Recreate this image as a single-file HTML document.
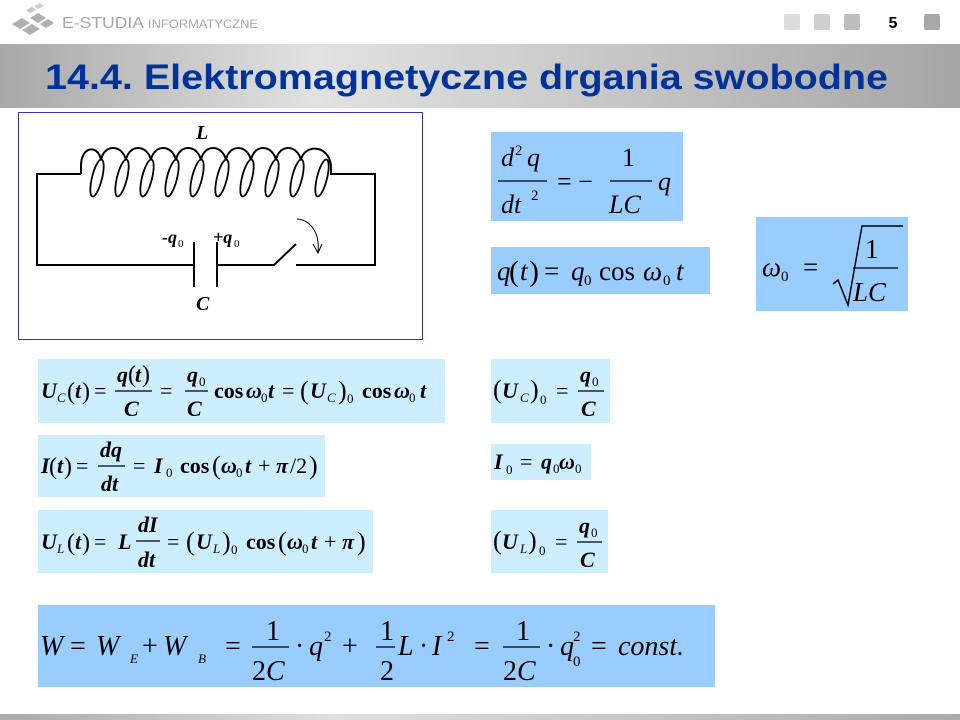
<!DOCTYPE html>
<html><head><meta charset="utf-8"><style>
html,body{margin:0;padding:0;background:#fff;}
svg{display:block;}
.m{font-family:"Liberation Serif",serif;font-style:italic;fill:#000;}
.r{font-family:"Liberation Serif",serif;fill:#000;}
.b{font-weight:bold;}
</style></head><body>
<svg width="960" height="720" viewBox="0 0 960 720" xmlns="http://www.w3.org/2000/svg">
<defs>
<linearGradient id="hg" x1="0" x2="1" y1="0" y2="0">
<stop offset="0" stop-color="#a8a8a8"/><stop offset="0.33" stop-color="#e2e2e2"/><stop offset="1" stop-color="#a6a6a6"/>
</linearGradient>
<linearGradient id="fg" x1="0" x2="1"><stop offset="0" stop-color="#aaa"/><stop offset="0.35" stop-color="#e0e0e0"/><stop offset="1" stop-color="#aaa"/></linearGradient>
</defs>
<!-- logo -->
<g fill="#b0b0b0">
<polygon points="12,24 22,18 30,23 20,29"/><polygon points="22,30 32,24 40,29 30,35"/><polygon points="30,18 38,13 46,18 38,23"/><polygon points="40,24 48,19 54,23 46,28"/>
<polygon points="26,10 32,7 36,10 30,13" fill="#c8c8c8"/><polygon points="34,6 40,3 44,6 38,9" fill="#d0d0d0"/>
</g>
<text x="62" y="28" font-family="Liberation Sans,sans-serif" font-size="16" fill="#a8a8a8" textLength="82" lengthAdjust="spacingAndGlyphs">E-STUDIA</text>
<text x="148" y="28" font-family="Liberation Sans,sans-serif" font-size="12" fill="#a8a8a8" textLength="110" lengthAdjust="spacingAndGlyphs">INFORMATYCZNE</text>
<rect x="784" y="14" width="16" height="16" rx="2" fill="#dcdcdc"/>
<rect x="814" y="14" width="16" height="16" rx="2" fill="#cfcfcf"/>
<rect x="844" y="14" width="16" height="16" rx="2" fill="#bdbdbd"/>
<rect x="924" y="14" width="16" height="16" rx="2" fill="#a8a8a8"/>
<text x="893" y="28" font-family="Liberation Sans,sans-serif" font-size="16" font-weight="bold" text-anchor="middle">5</text>
<!-- header bar -->
<rect x="0" y="44" width="960" height="64" fill="url(#hg)"/>
<text x="45" y="89" font-family="Liberation Sans,sans-serif" font-size="35" font-weight="bold" fill="#003399" textLength="843" lengthAdjust="spacingAndGlyphs">14.4. Elektromagnetyczne drgania swobodne</text>
<!-- footer -->
<rect x="0" y="714" width="960" height="6" fill="url(#fg)"/>
<!-- circuit -->
<rect x="18.5" y="112.5" width="404" height="227" fill="#fff" stroke="#3333aa" stroke-width="1"/>
<g fill="none" stroke="#000" stroke-width="2">
<polyline points="81,174 37,174 37,265 193,265"/>
<polyline points="218,265 274,265 296,244"/>
<polyline points="296,265 375,265 375,174 331,174 331,166"/>
<line x1="194" y1="242" x2="194" y2="287"/>
<line x1="217" y1="242" x2="217" y2="287"/>
<path d="M81,174 L81,166 C81,146 98,144 101,160 C104,144 122,144 126,160 C129,144 147,144 151,160 C154,144 172,144 176,160 C179,144 197,144 201,160 C204,144 222,144 226,160 C229,144 247,144 251,160 C254,144 272,144 276,160 C279,144 297,144 301,160 C304,144 329,144 331,166"/>
<g stroke-width="1.8">
<ellipse cx="97" cy="178" rx="5" ry="19" transform="rotate(14 97 178)"/>
<ellipse cx="122" cy="178" rx="5" ry="19" transform="rotate(14 122 178)"/>
<ellipse cx="147" cy="178" rx="5" ry="19" transform="rotate(14 147 178)"/>
<ellipse cx="172" cy="178" rx="5" ry="19" transform="rotate(14 172 178)"/>
<ellipse cx="197" cy="178" rx="5" ry="19" transform="rotate(14 197 178)"/>
<ellipse cx="222" cy="178" rx="5" ry="19" transform="rotate(14 222 178)"/>
<ellipse cx="247" cy="178" rx="5" ry="19" transform="rotate(14 247 178)"/>
<ellipse cx="272" cy="178" rx="5" ry="19" transform="rotate(14 272 178)"/>
<ellipse cx="297" cy="178" rx="5" ry="19" transform="rotate(14 297 178)"/>
<ellipse cx="322" cy="178" rx="5" ry="19" transform="rotate(14 322 178)"/>
</g>
<path d="M297,219 C310,220 320,232 318,252" stroke-width="1"/>
<polyline points="313,244 318,253 322,244" stroke-width="1"/>
</g>
<text class="m b" x="196" y="139" font-size="20">L</text>
<text class="m b" x="196" y="310" font-size="20">C</text>
<text class="m b" x="162" y="243" font-size="18">-q</text><text class="r" x="178" y="247" font-size="11">0</text>
<text class="m b" x="213" y="243" font-size="18">+q</text><text class="r" x="234" y="247" font-size="11">0</text>
<!-- boxes dark -->
<g fill="#99ccff">
<rect x="491" y="132" width="192" height="89"/>
<rect x="491" y="247" width="219" height="47"/>
<rect x="756" y="217" width="152" height="94"/>
<rect x="38" y="605" width="677" height="82"/>
</g>
<g fill="#cceeff">
<rect x="38" y="359" width="407" height="64"/>
<rect x="38" y="435" width="287" height="62"/>
<rect x="38" y="510" width="335" height="63"/>
<rect x="491" y="359" width="119" height="64"/>
<rect x="491" y="444" width="100" height="36"/>
<rect x="491" y="510" width="117" height="63"/>
</g>
<!-- eq A -->
<text class="m" x="501" y="166" font-size="26">d</text><text class="r" x="515" y="155" font-size="15">2</text><text class="m" x="527" y="166" font-size="26">q</text>
<line x1="498" y1="181" x2="547" y2="181" stroke="#000" stroke-width="1.3"/>
<text class="m" x="501" y="213" font-size="26">dt</text><text class="r" x="531" y="200" font-size="15">2</text>
<text class="r" x="557" y="190" font-size="26">= −</text>
<text class="r" x="622" y="166" font-size="26">1</text>
<line x1="610" y1="181" x2="652" y2="181" stroke="#000" stroke-width="1.3"/>
<text class="m" x="609" y="213" font-size="26">LC</text>
<text class="m" x="658" y="190" font-size="26">q</text>
<!-- eq B -->
<text class="m" x="497" y="280" font-size="27">q</text><text class="r" x="509" y="281" font-size="30">(</text><text class="m" x="520" y="280" font-size="27">t</text><text class="r" x="529" y="281" font-size="30">)</text>
<text class="r" x="544" y="280" font-size="27">=</text>
<text class="m" x="571" y="280" font-size="27">q</text><text class="r" x="584" y="285" font-size="15">0</text>
<text class="r" x="599" y="280" font-size="27">cos</text>
<text class="m" x="643" y="280" font-size="27">ω</text><text class="r" x="663" y="285" font-size="15">0</text>
<text class="m" x="676" y="280" font-size="27">t</text>
<!-- eq C -->
<text class="m" x="762" y="276" font-size="27">ω</text><text class="r" x="781" y="281" font-size="15">0</text>
<text class="r" x="803" y="276" font-size="27">=</text>
<polyline points="833,284 838,280 848,305 862,226 903,226" fill="none" stroke="#000" stroke-width="1.5"/>
<text class="r" x="865" y="258" font-size="27">1</text>
<line x1="853" y1="268" x2="898" y2="268" stroke="#000" stroke-width="1.3"/>
<text class="m" x="853" y="301" font-size="27">LC</text>
<!-- UC(t) -->
<g font-size="22">
<text class="m b" x="41" y="398">U</text><text class="m" x="57" y="402" font-size="13">C</text>
<text class="r" x="67" y="399" font-size="24">(</text><text class="m b" x="75" y="398">t</text><text class="r" x="82" y="399" font-size="24">)</text>
<text class="r" x="94" y="398">=</text>
<text class="m b" x="117" y="382">q</text><text class="r" x="128" y="382" font-size="24">(</text><text class="m b" x="135" y="382">t</text><text class="r" x="142" y="382" font-size="24">)</text>
<line x1="115" y1="391" x2="152" y2="391" stroke="#000" stroke-width="1.2"/>
<text class="m b" x="124" y="416">C</text>
<text class="r" x="160" y="398">=</text>
<text class="m b" x="187" y="382">q</text><text class="r" x="199" y="386" font-size="13">0</text>
<line x1="185" y1="391" x2="208" y2="391" stroke="#000" stroke-width="1.2"/>
<text class="m b" x="187" y="416">C</text>
<text class="r b" x="214" y="398">cos</text><text class="m b" x="246" y="398">ω</text><text class="r" x="261" y="402" font-size="13">0</text><text class="m b" x="268" y="398">t</text>
<text class="r" x="282" y="398">=</text>
<text class="r" x="300" y="399" font-size="26">(</text><text class="m b" x="310" y="398">U</text><text class="m" x="327" y="402" font-size="13">C</text><text class="r" x="338" y="399" font-size="26">)</text><text class="r" x="347" y="403" font-size="13">0</text>
<text class="r b" x="362" y="398">cos</text><text class="m b" x="394" y="398">ω</text><text class="r" x="409" y="402" font-size="13">0</text><text class="m b" x="420" y="398">t</text>
</g>
<!-- I(t) -->
<g font-size="22">
<text class="m b" x="41" y="473">I</text><text class="r" x="49" y="474" font-size="24">(</text><text class="m b" x="57" y="473">t</text><text class="r" x="64" y="474" font-size="24">)</text>
<text class="r" x="76" y="473">=</text>
<text class="m b" x="100" y="457">dq</text>
<line x1="98" y1="466" x2="125" y2="466" stroke="#000" stroke-width="1.2"/>
<text class="m b" x="101" y="491">dt</text>
<text class="r" x="133" y="473">=</text>
<text class="m b" x="154" y="473">I</text><text class="r" x="166" y="477" font-size="13">0</text>
<text class="r b" x="180" y="473">cos</text><text class="r" x="212" y="474" font-size="26">(</text><text class="m b" x="221" y="473">ω</text><text class="r" x="236" y="477" font-size="13">0</text><text class="m b" x="245" y="473">t</text>
<text class="r" x="258" y="473">+</text><text class="m b" x="276" y="473">π</text><text class="r" x="290" y="473">/2</text><text class="r" x="309" y="474" font-size="26">)</text>
</g>
<!-- UL(t) -->
<g font-size="22">
<text class="m b" x="41" y="549">U</text><text class="m" x="57" y="553" font-size="13">L</text>
<text class="r" x="67" y="550" font-size="24">(</text><text class="m b" x="75" y="549">t</text><text class="r" x="82" y="550" font-size="24">)</text>
<text class="r" x="94" y="549">=</text>
<text class="m b" x="118" y="549">L</text>
<text class="m b" x="138" y="532">dI</text>
<line x1="136" y1="541" x2="160" y2="541" stroke="#000" stroke-width="1.2"/>
<text class="m b" x="138" y="567">dt</text>
<text class="r" x="167" y="549">=</text>
<text class="r" x="186" y="550" font-size="26">(</text><text class="m b" x="196" y="549">U</text><text class="m" x="213" y="553" font-size="13">L</text><text class="r" x="222" y="550" font-size="26">)</text><text class="r" x="231" y="554" font-size="13">0</text>
<text class="r b" x="246" y="549">cos</text><text class="r" x="278" y="550" font-size="26">(</text><text class="m b" x="287" y="549">ω</text><text class="r" x="302" y="553" font-size="13">0</text><text class="m b" x="311" y="549">t</text>
<text class="r" x="324" y="549">+</text><text class="m b" x="342" y="549">π</text><text class="r" x="357" y="550" font-size="26">)</text>
</g>
<!-- right small -->
<g font-size="22">
<text class="r" x="493" y="398" font-size="26">(</text><text class="m b" x="502" y="398">U</text><text class="m" x="520" y="402" font-size="13">C</text><text class="r" x="530" y="398" font-size="26">)</text><text class="r" x="540" y="404" font-size="13">0</text>
<text class="r" x="556" y="398">=</text>
<text class="m b" x="580" y="382">q</text><text class="r" x="592" y="386" font-size="13">0</text>
<line x1="578" y1="391" x2="604" y2="391" stroke="#000" stroke-width="1.2"/>
<text class="m b" x="581" y="416">C</text>
<text class="m b" x="494" y="469">I</text><text class="r" x="506" y="474" font-size="13">0</text>
<text class="r" x="520" y="469">=</text>
<text class="m b" x="541" y="469">q</text><text class="r" x="553" y="473" font-size="13">0</text><text class="m b" x="559" y="469">ω</text><text class="r" x="575" y="473" font-size="13">0</text>
<text class="r" x="493" y="549" font-size="26">(</text><text class="m b" x="502" y="549">U</text><text class="m" x="520" y="553" font-size="13">L</text><text class="r" x="528" y="549" font-size="26">)</text><text class="r" x="539" y="555" font-size="13">0</text>
<text class="r" x="555" y="549">=</text>
<text class="m b" x="579" y="533">q</text><text class="r" x="591" y="537" font-size="13">0</text>
<line x1="577" y1="542" x2="602" y2="542" stroke="#000" stroke-width="1.2"/>
<text class="m b" x="580" y="567">C</text>
</g>
<!-- energy -->
<g font-size="28">
<text class="m" x="40" y="655">W</text>
<text class="r" x="70" y="655">=</text>
<text class="m" x="96" y="655">W</text><text class="m" x="130" y="663" font-size="13">E</text>
<text class="r" x="142" y="655">+</text>
<text class="m" x="163" y="655">W</text><text class="m" x="198" y="663" font-size="13">B</text>
<text class="r" x="225" y="655">=</text>
<text class="r" x="266" y="640">1</text>
<line x1="252" y1="647" x2="289" y2="647" stroke="#000" stroke-width="1.3"/>
<text class="r" x="252" y="680">2</text><text class="m" x="266" y="680">C</text>
<text class="r" x="295" y="655">·</text><text class="m" x="309" y="655">q</text><text class="r" x="324" y="641" font-size="15">2</text>
<text class="r" x="342" y="655">+</text>
<text class="r" x="380" y="640">1</text>
<line x1="376" y1="647" x2="395" y2="647" stroke="#000" stroke-width="1.3"/>
<text class="r" x="380" y="680">2</text>
<text class="m" x="398" y="655">L</text><text class="r" x="419" y="655">·</text><text class="m" x="432" y="655">I</text><text class="r" x="447" y="641" font-size="15">2</text>
<text class="r" x="474" y="655">=</text>
<text class="r" x="516" y="640">1</text>
<line x1="503" y1="647" x2="540" y2="647" stroke="#000" stroke-width="1.3"/>
<text class="r" x="503" y="680">2</text><text class="m" x="517" y="680">C</text>
<text class="r" x="546" y="655">·</text><text class="m" x="560" y="655">q</text><text class="r" x="573" y="641" font-size="15">2</text><text class="r" x="573" y="666" font-size="15">0</text>
<text class="r" x="591" y="655">=</text>
<text class="m" x="618" y="655">const.</text>
</g>
</svg>
</body></html>
